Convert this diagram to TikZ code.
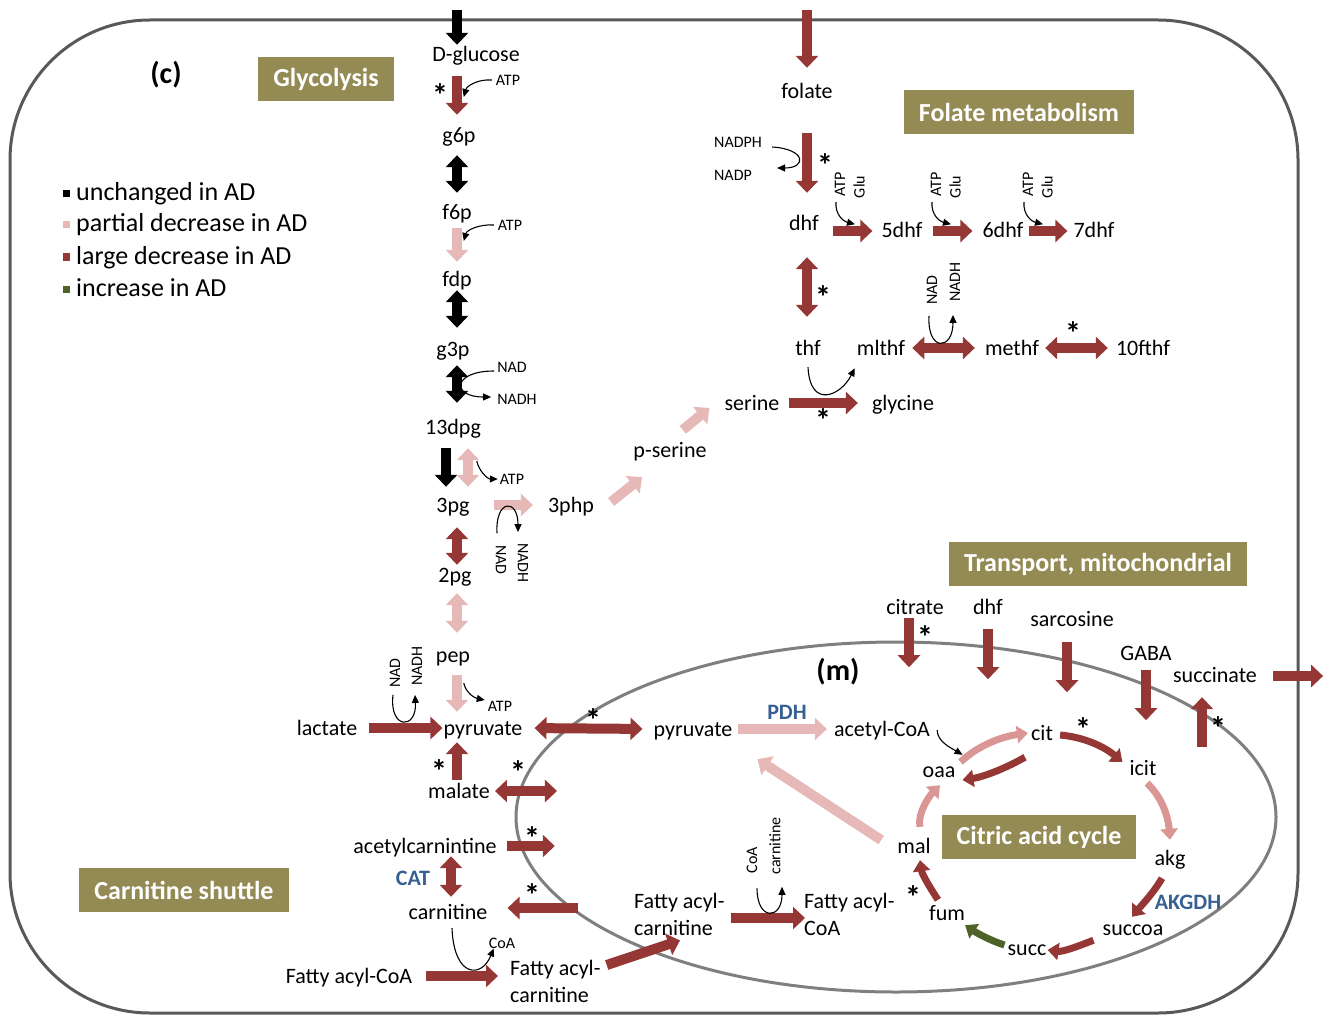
\documentclass[tikz,border=0pt]{standalone}
\usepackage{fontspec}
\setmainfont{Carlito}
\usetikzlibrary{arrows.meta,calc,positioning}
\definecolor{dred}{RGB}{149,55,53}
\definecolor{lpink}{RGB}{230,185,184}
\definecolor{cpink}{RGB}{217,150,148}
\definecolor{dgreen}{RGB}{79,98,40}
\definecolor{olivebox}{RGB}{148,138,84}
\definecolor{enzblue}{RGB}{55,96,146}
\definecolor{bordergray}{RGB}{89,89,89}
\definecolor{mitogray}{RGB}{127,127,127}
\newcommand{\sigmark}{\raisebox{-0.38em}[0.30em][0pt]{*}}

\begin{document}
\begin{tikzpicture}[x=1pt, y=-1pt,
  met/.style={font=\fontsize{22}{26}\selectfont, inner sep=0pt, text height=17pt, text depth=3pt},
  mettwo/.style={font=\fontsize{22}{27}\selectfont, inner sep=0pt, align=left, anchor=west},
  cof/.style={font=\fontsize{16}{18}\selectfont, inner sep=0pt},
  leg/.style={font=\fontsize{26}{30}\selectfont, inner sep=0pt, anchor=west, text height=19pt, text depth=5pt},
  legsq/.style={minimum size=7pt, inner sep=0pt},
  titlebox/.style={fill=olivebox, text=white, font=\fontsize{26}{30}\selectfont\bfseries, minimum height=44pt, inner xsep=15pt},
  enz/.style={text=enzblue, font=\fontsize{22}{24}\selectfont\bfseries, inner sep=0pt},
  astx/.style={font=\fontsize{32}{32}\selectfont\bfseries, inner sep=0pt},
  fat/.style={line width=10pt, -{Triangle[length=12pt,width=22pt]}},
  fatboth/.style={line width=10pt, {Triangle[length=12pt,width=22pt]}-{Triangle[length=12pt,width=22pt]}},
  cyc/.style={line width=7pt, -{Triangle[length=11pt,width=17pt]}},
  curv/.style={line width=1.1pt, -{Triangle[length=8pt,width=7pt]}},
  sh/.style 2 args={shorten <=#1pt, shorten >=#2pt}]
\useasboundingbox (0,0) rectangle (1324,1016);

% Cell and mitochondrion
\draw[bordergray, line width=3pt, rounded corners=140pt] (10,20) rectangle (1298,1013);
\draw[mitogray, line width=3pt] (896,817) ellipse [x radius=380pt, y radius=175pt];

% Panel labels and section boxes
\node[font=\fontsize{30}{32}\selectfont\bfseries] (lblc) at (166,75) {(c)};
\node[font=\fontsize{30}{32}\selectfont\bfseries] (lblm) at (838,672) {(m)};
\node[titlebox] (tglyc) at (326,79) {Glycolysis};
\node[titlebox] (tfol) at (1019,112) {Folate metabolism};
\node[titlebox] (ttrans) at (1098,564) {Transport, mitochondrial};
\node[titlebox] (tcarn) at (184,890) {Carnitine shuttle};
\node[titlebox] (tcyc) at (1039,837) {Citric acid cycle};

% Legend
\node[leg] (lunch) at (76,194) {unchanged in AD};
\node[leg] (lpart) at (76,225) {partial decrease in AD};
\node[leg] (llarge) at (76,257) {large decrease in AD};
\node[leg] (lincr) at (76,289) {increase in AD};
\node[legsq, fill=black, left=6pt of lunch] (sqa) {};
\node[legsq, fill=lpink, left=6pt of lpart] (sqb) {};
\node[legsq, fill=dred, left=6pt of llarge] (sqc) {};
\node[legsq, fill=dgreen, left=6pt of lincr] (sqd) {};

% Glycolysis
\node[met] (glc) at (476,55) {D-glucose};
\node[met] (g6p) at (459,136) {g6p};
\node[met] (f6p) at (457,213) {f6p};
\node[met] (fdp) at (457,280) {fdp};
\node[met] (g3p) at (453,349) {g3p};
\node[met] (dpg) at (453,427) {13dpg};
\node[met] (tpg) at (453,505) {3pg};
\node[met] (php) at (571,505) {3php};
\node[met] (pser) at (670,450) {p-serine};
\node[met] (twopg) at (455,575) {2pg};
\node[met] (pep) at (453,655) {pep};
\node[met] (pyr) at (483,728) {pyruvate};
\node[met] (lac) at (327,728) {lactate};
\node[met] (mlt) at (459,791) {malate};

\node[cof] (atpa) at (508,80) {ATP};
\node[cof] (atpb) at (510,225) {ATP};
\node[cof] (nad1) at (512,367) {NAD};
\node[cof] (nadh1) at (517,399) {NADH};
\node[cof] (atpc) at (512,479) {ATP};
\node[cof, rotate=-90] (nad2) at (501,560) {NAD};
\node[cof, rotate=-90] (nadh2) at (523,563) {NADH};
\node[cof] (atpd) at (500,706) {ATP};
\node[cof, rotate=90] (nad3) at (395,673) {NAD};
\node[cof, rotate=90] (nadh3) at (417,666) {NADH};

\coordinate (col) at (457,0);
\coordinate (colb) at (446,0);
\coordinate (colp) at (468,0);
\coordinate (glcin) at (457,10);
\draw[fat, black] (glcin) -- (glcin |- glc.north);
\draw[fat, dred, sh={11}{11}] (glc.south -| col) -- (g6p.north -| col);
\draw[fatboth, black, sh={9}{10}] (g6p.south -| col) -- (f6p.north -| col);
\draw[fat, lpink, sh={5}{8}] (f6p.south -| col) -- (fdp.north -| col);
\draw[fatboth, black, sh={0}{11}] (fdp.south -| col) -- (g3p.north -| col);
\draw[fatboth, black, sh={6}{14}] (g3p.south -| col) -- (dpg.north -| col);
\draw[fat, black, sh={11}{8}] (dpg.south -| colb) -- (tpg.north -| colb);
\draw[fatboth, lpink, sh={11}{8}] (dpg.south -| colp) -- (tpg.north -| colp);
\draw[fatboth, dred, sh={12}{0}] (tpg.south -| col) -- (twopg.north -| col);
\draw[fatboth, lpink, sh={8}{12}] (twopg.south -| col) -- (pep.north -| col);
\draw[fat, lpink, sh={10}{6}] (pep.south -| col) -- (pyr.north -| col);
\draw[fat, dred, sh={1}{4}] (mlt.north -| col) -- (pyr.south -| col);
\draw[fat, lpink, sh={24}{15}] (tpg.east) -- (php.west);
\draw[fat, lpink] ($(php.east)+(17,-3)$) -- ($(pser.south)+(-28,17)$);
\draw[fat, dred, sh={12}{1}] (lac.east) -- (pyr.west);

\draw[curv] ($(atpa.west)+(-4,0)$) .. controls +(-14,-1) and +(3,-11) .. ($(atpa.west)+(-32,17)$);
\draw[curv] ($(atpb.west)+(-4,0)$) .. controls +(-14,-1) and +(3,-11) .. ($(atpb.west)+(-34,16)$);
\draw[curv] ($(nad1.west)+(-3,4)$) .. controls +(-42,0) and +(-40,0) .. ($(nadh1.west)+(-6,-2)$);
\draw[curv] ($(atpc.west)+(-23,-18)$) .. controls +(2,10) and +(-10,0) .. ($(atpc.west)+(-2,0)$);
\draw[curv] ($(nad2.west)+(-4,-12)$) .. controls +(-2,-34) and +(0,-34) .. ($(nadh2.west)+(-5,-11)$);
\draw[curv] ($(atpd.west)+(-24,-23)$) .. controls +(2,10) and +(-10,-2) .. ($(atpd.west)+(-3,-6)$);
\draw[curv] ($(nad3.west)+(-2,7)$) .. controls +(-4,35) and +(2,35) .. ($(nadh3.west)+(-2,9)$);

% Carnitine shuttle
\node[met] (acar) at (425,846) {acetylcarnintine};
\node[met] (car) at (448,912) {carnitine};
\node[met] (fac) at (349,976) {Fatty acyl-CoA};
\node[mettwo] (facar) at (510,981) {Fatty acyl-\\carnitine};
\node[mettwo] (mfacar) at (634,914) {Fatty acyl-\\carnitine};
\node[mettwo] (mfacoa) at (804,914) {Fatty acyl-\\CoA};
\node[enz] (cat) at (413,878) {CAT};
\node[cof] (coa1) at (502,943) {CoA};
\node[cof, rotate=90] (coa2) at (752,860) {CoA};
\node[cof, rotate=90] (carn2) at (775,846) {carnitine};

\coordinate (colc) at (451,0);
\draw[fat, dred, sh={10}{0}] (acar.east) -- ++(58,0);
\draw[fatboth, dred, sh={0}{5}] (acar.south -| colc) -- (car.north -| colc);
\draw[fat, dred] ($(car.east)+(90,-4)$) -- ($(car.east)+(20,-4)$);
\draw[fat, dred, sh={14}{12}] (fac.east) -- (fac.east -| facar.west);
\draw[fat, dred] ($(facar.east)+(6,-16)$) -- ($(mfacar.south west)+(46,5)$);
\draw[fat, dred] ($(mfacar.east)+(6,4)$) -- ($(mfacoa.west)+(1,4)$);
\draw[curv] ($(car.south)+(4,6)$) .. controls +(2,50) and +(-12,30) .. ($(coa1.south west)+(5,0)$);
\draw[curv] ($(coa2.west)+(5,15)$) .. controls +(0,33) and +(0,33) .. ($(carn2.west)+(7,12)$);

% Mitochondrial pyruvate
\node[met] (mpyr) at (693,729) {pyruvate};
\node[met] (acoa) at (882,729) {acetyl-CoA};
\node[enz] (pdh) at (787,712) {PDH};
\draw[fatboth, dred, sh={12}{11}] (pyr.east) -- (mpyr.west);
\draw[fatboth, dred, sh={5}{0}] (mlt.east) -- ++(67,0);
\draw[fat, lpink, sh={5}{7}] (mpyr.east) -- (acoa.west);

% Folate metabolism
\node[met] (fol) at (807,92) {folate};
\node[met] (dhf) at (804,224) {dhf};
\node[met] (dhf5) at (902,231) {5dhf};
\node[met] (dhf6) at (1003,231) {6dhf};
\node[met] (dhf7) at (1094,231) {7dhf};
\node[met] (thf) at (808,348) {thf};
\node[met] (mlthf) at (881,348) {mlthf};
\node[met] (methf) at (1012,348) {methf};
\node[met] (fthf) at (1143,348) {10fthf};
\node[met] (ser) at (752,403) {serine};
\node[met] (gly) at (903,403) {glycine};
\node[cof] (nadph) at (738,142) {NADPH};
\node[cof] (nadp) at (733,175) {NADP};
\node[cof, rotate=90] (nad4) at (932,290) {NAD};
\node[cof, rotate=90] (nadh4) at (955,282) {NADH};

\coordinate (folin) at (807,10);
\coordinate (colf) at (807,0);
\draw[fat, dred, sh={0}{14}] (folin) -- (folin |- fol.north);
\draw[fat, dred, sh={31}{21}] (fol.south -| colf) -- (dhf.north -| colf);
\draw[fat, dred] ($(dhf.east)+(14,7)$) -- ($(dhf5.west)+(-9,0)$);
\draw[fat, dred, sh={10}{10}] (dhf5.east) -- (dhf6.west);
\draw[fat, dred, sh={5}{6}] (dhf6.east) -- (dhf7.west);
\draw[fatboth, dred, sh={23}{21}] (dhf.south -| colf) -- (thf.north -| colf);
\draw[fatboth, dred, sh={7}{10}] (mlthf.east) -- (methf.west);
\draw[fatboth, dred, sh={6}{8}] (methf.east) -- (fthf.west);
\draw[fat, dred, sh={9}{14}] (ser.east) -- (gly.west);
\draw[fat, lpink] ($(pser.north east)+(-24,-10)$) -- ($(ser.west)+(-15,5)$);

\draw[curv] ($(nadph.east)+(10,5)$) .. controls +(34,2) and +(30,0) .. ($(nadp.east)+(25,-7)$);
\draw[curv] ($(nad4.west)+(-3,11)$) .. controls +(-2,36) and +(0,36) .. ($(nadh4.west)+(-2,13)$);
\draw[curv] ($(thf.south)+(0,9)$) .. controls +(2,42) and +(-14,28) .. ($(mlthf.south west)+(-2,10)$);
\foreach \i/\x in {1/840,2/936,3/1028}{
  \node[cof, rotate=90] (atpf\i) at (\x,184) {ATP};
  \node[cof, rotate=90] (gluf\i) at (\x+19,187) {Glu};
  \draw[curv] ($(atpf\i.west)+(-4,6)$) .. controls +(-1,12) and +(-12,-3) .. ($(atpf\i.west)+(15,28)$);
}

% Mitochondrial transport
\node[met] (cita) at (915,607) {citrate};
\node[met] (dhfm) at (988,607) {dhf};
\node[met] (sarc) at (1072,619) {sarcosine};
\node[met] (gaba) at (1146,653) {GABA};
\node[met] (succa) at (1215,675) {succinate};
\draw[fat, dred] ($(cita.south)+(-6,1)$) -- ++(0,49);
\draw[fat, dred] ($(dhfm.south)+(0,12)$) -- ++(0,50);
\draw[fat, dred] ($(sarc.south)+(-5,13)$) -- ++(0,50);
\draw[fat, dred] ($(gaba.south)+(0,7)$) -- ++(0,50);
\draw[fat, dred] ($(succa.south)+(-13,62)$) -- ($(succa.south)+(-13,12)$);
\draw[fat, dred] ($(succa.east)+(16,1)$) -- ++(50,0);

% Citric acid cycle
\node[met] (cit) at (1042,733) {cit};
\node[met] (icit) at (1143,768) {icit};
\node[met] (akg) at (1170,858) {akg};
\node[met] (succoa) at (1133,928) {succoa};
\node[met] (succ) at (1027,948) {succ};
\node[met] (fum) at (947,913) {fum};
\node[met] (mal) at (914,846) {mal};
\node[met] (oaa) at (939,770) {oaa};
\node[enz] (akgdh) at (1188,902) {AKGDH};

\draw[curv] ($(acoa.east)+(7,1)$) .. controls +(0,12) and +(-10,-6) .. ($(oaa.north east)+(7,-5)$);
\draw[cyc, cpink] ($(oaa.east)+(5,-8)$) .. controls +(17,-16) and +(-28,4) .. ($(cit.west)+(-3,0)$);
\draw[cyc, dred] ($(cit.south)+(-17,14)$) .. controls +(-21,12) and +(20,-3) .. ($(oaa.east)+(7,10)$);
\draw[cyc, dred] ($(cit.east)+(7,2)$) .. controls +(23,2) and +(-19,-16) .. ($(icit.west)+(-7,-6)$);
\draw[cyc, cpink] ($(icit.south)+(4,5)$) .. controls +(14,13) and +(-2,-25) .. ($(akg.north)+(0,-8)$);
\draw[cyc, dred] ($(akg.south)+(-8,10)$) .. controls +(-8,14) and +(10,-12) .. ($(succoa.north)+(-1,-1)$);
\draw[cyc, dred] ($(succoa.south west)+(-9,2)$) .. controls +(-15,6) and +(15,2) .. ($(succ.east)+(1,2)$);
\draw[cyc, dgreen] ($(succ.west)+(-3,-3)$) .. controls +(-13,-4) and +(12,8) .. ($(fum.south east)+(0,2)$);
\draw[cyc, dred] ($(fum.north)+(-9,-3)$) .. controls +(-8,-12) and +(2,14) .. ($(mal.south)+(6,4)$);
\draw[cyc, cpink] ($(mal.north)+(6,-9)$) .. controls +(-3,-14) and +(-10,10) .. ($(oaa.south)+(1,5)$);
\draw[fat, lpink] ($(mal.west)+(-16,-6)$) -- ($(mpyr.south east)+(25,20)$);

% Significance marks
\foreach \x/\y [count=\i] in {440/90, 825/160, 823/292, 823/415, 1073/328, 593/715, 439/766, 518/767, 532/833, 532/890, 925/632, 1218/723, 1083/724, 913/892}
  \node[astx] (mark\i) at (\x,\y) {\sigmark};
\end{tikzpicture}
\end{document}
